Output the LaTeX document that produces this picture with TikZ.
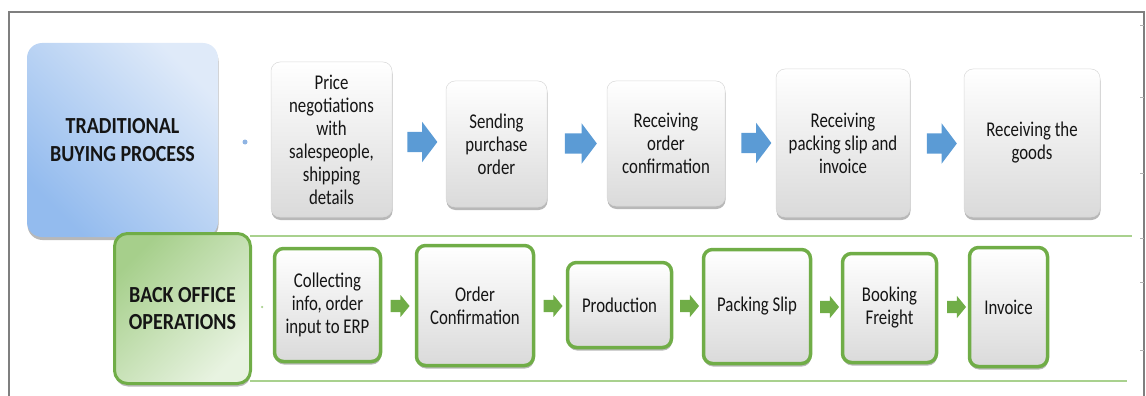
\documentclass[tikz,border=0pt]{standalone}
\usepackage{fontspec}
\setmainfont{Carlito}[FakeStretch=0.80]
\newfontfamily\boldfam{Carlito}[FakeStretch=0.87]
\usetikzlibrary{shapes.arrows,shadows}
\definecolor{frameGray}{HTML}{7F7F7F}
\definecolor{boxGray}{HTML}{DADADA}
\definecolor{greenLine}{HTML}{70AD47}
\definecolor{greenThin}{HTML}{A9D18E}
\definecolor{greenDark}{HTML}{A6CF8B}
\definecolor{greenLight}{HTML}{E8F3E1}
\definecolor{blueDark}{HTML}{93BBEE}
\definecolor{blueLight}{HTML}{DFEAF9}
\definecolor{arrowBlue}{HTML}{5B9BD5}
\definecolor{dotBlue}{HTML}{8FB4E3}
\definecolor{textDark}{HTML}{151515}
\newcommand{\regfont}{\fontsize{21}{23}\selectfont}
\newcommand{\boldfont}{\boldfam\fontsize{23}{27.5}\selectfont\bfseries}
\begin{document}
\begin{tikzpicture}[x=1pt,y=-1pt,
  boxshadow/.style={drop shadow={shadow xshift=0.5pt,shadow yshift=-3pt,fill=black,opacity=0.28}},
  graybox/.style={rectangle,rounded corners=9pt,top color=white,bottom color=boxGray,
    draw=gray!30,line width=0.5pt,boxshadow,align=center,font=\regfont,text=textDark,inner sep=0pt},
  greenbox/.style={graybox,draw=greenLine,line width=3.5pt},
  bluearrow/.style={single arrow,fill=arrowBlue,draw=none,inner xsep=0pt,inner ysep=10pt,
    minimum height=30pt,minimum width=40pt,single arrow head extend=10pt,single arrow tip angle=106},
  greenarrow/.style={single arrow,fill=greenLine,draw=none,inner xsep=0pt,inner ysep=6pt,
    minimum height=19pt,minimum width=22pt,single arrow head extend=5pt,single arrow tip angle=101},
  thinline/.style={draw=greenThin,line width=1.5pt},
  tick/.style={draw=gray!60,line width=0.8pt}
]
\useasboundingbox (0,0) rectangle (1146,396);
% frame
\draw[frameGray,line width=1.3pt] (9,396) -- (9,12) -- (1144,12) -- (1144,396);
\foreach \ty in {25,97,173,238,282,350}{\draw[tick] (1140,\ty) -- (1144,\ty);}

% green row guide lines
\coordinate (gtopR) at (1132,236);
\coordinate (gbotR) at (1127,381);
\draw[thinline] (250,236) -- (gtopR);
\draw[thinline] (250,381) -- (gbotR);

% big blue box
\node[rectangle,rounded corners=15pt,top color=blueLight,bottom color=blueDark,shading angle=-45,
  boxshadow,minimum width=191pt,minimum height=194pt,inner sep=0pt,align=center,font=\boldfont,text=textDark]
  (trad) at (122.5,140) {TRADITIONAL\\BUYING PROCESS};
\node[circle,fill=dotBlue,inner sep=0pt,minimum size=5pt] (dot1) at (245,142) {};

% big green box
\node[rectangle,rounded corners=13pt,top color=greenLight,bottom color=greenDark,shading angle=-135,
  draw=greenLine,line width=3pt,boxshadow,minimum width=136pt,minimum height=150pt,inner sep=0pt,
  align=center,font=\boldfont,text=textDark] (back) at (182.5,308.5) {BACK OFFICE\\OPERATIONS};
\node[circle,fill=greenThin,inner sep=0pt,minimum size=2.5pt] (dot2) at (262,307) {};

% top row
\node[graybox,minimum width=121pt,minimum height=155pt] (price) at (331.5,139.5)
  {Price\\negotiations\\with\\salespeople,\\shipping\\details};
\node[graybox,minimum width=101pt,minimum height=126pt] (send) at (496.5,144)
  {Sending\\purchase\\order};
\node[graybox,minimum width=118pt,minimum height=125pt] (rconf) at (666,143.5)
  {Receiving\\order\\confirmation};
\node[graybox,minimum width=134pt,minimum height=148pt] (rpack) at (843,143)
  {Receiving\\packing slip and\\invoice};
\node[graybox,minimum width=136pt,minimum height=148pt] (rgoods) at (1032,143)
  {Receiving the\\goods};

\node[bluearrow] (ba1) at (418.5,142) {};
\node[bluearrow,minimum height=32pt] (ba2) at (577,143.5) {};
\node[bluearrow] (ba3) at (752.5,143) {};
\node[bluearrow] (ba4) at (938,143.5) {};

% bottom row
\node[greenbox,minimum width=106pt,minimum height=113pt] (collect) at (327.5,305)
  {Collecting\\info, order\\input to ERP};
\node[greenbox,minimum width=117pt,minimum height=120pt] (oconf) at (475,305.5)
  {Order\\Confirmation};
\node[greenbox,minimum width=104pt,minimum height=85pt] (prod) at (619.5,305)
  {Production};
\node[greenbox,minimum width=107pt,minimum height=114pt] (pslip) at (757,306.5)
  {Packing Slip};
\node[greenbox,minimum width=94pt,minimum height=109pt] (book) at (889.5,308)
  {Booking\\Freight};
\node[greenbox,minimum width=78pt,minimum height=119pt] (inv) at (1008.5,307)
  {Invoice};

\node[greenarrow] (ga1) at (397.5,306) {};
\node[greenarrow] (ga2) at (550.5,306) {};
\node[greenarrow] (ga3) at (687,306) {};
\node[greenarrow] (ga4) at (827,307) {};
\node[greenarrow] (ga5) at (954,307) {};
\end{tikzpicture}
\end{document}
